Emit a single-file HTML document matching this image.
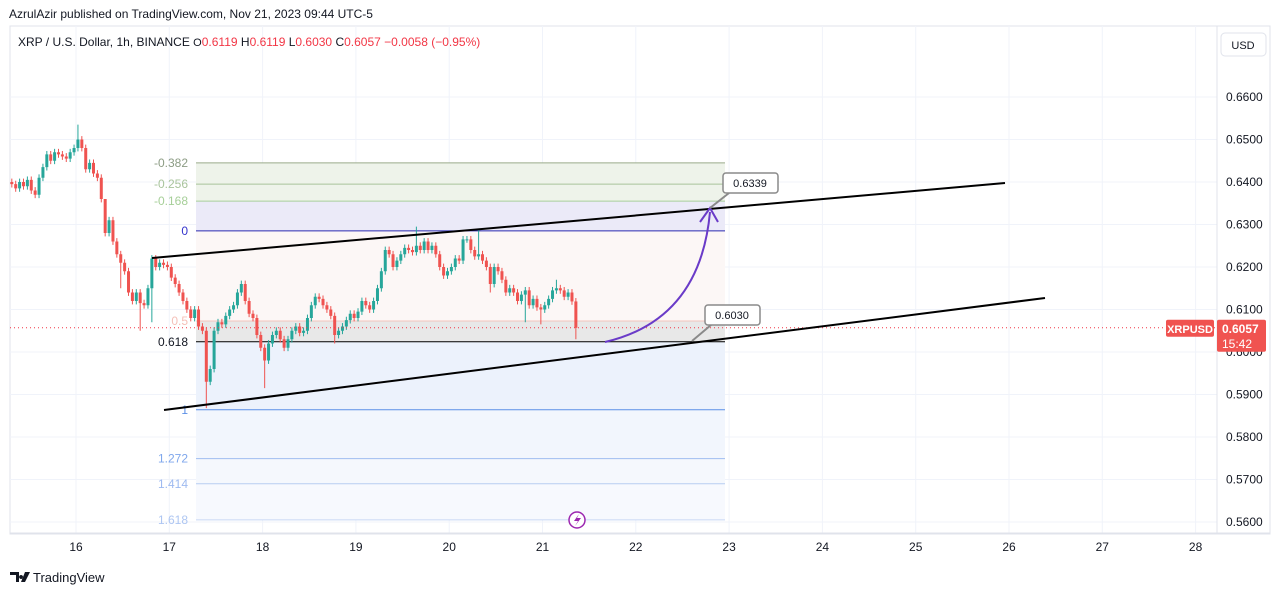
<!DOCTYPE html>
<html><head><meta charset="utf-8"><style>
body{margin:0;width:1281px;height:595px;background:#fff;overflow:hidden;font-family:"Liberation Sans",sans-serif;}
svg{position:absolute;left:0;top:0}
</style></head><body>
<svg id="c" width="1281" height="595">
<text x="9" y="18" font-size="12" fill="#131722">AzrulAzir published on TradingView.com, Nov 21, 2023 09:44 UTC-5</text>
<rect x="10" y="26" width="1260" height="508" fill="none" stroke="#e0e3eb"/>
<g id="grid"></g>
<g id="fib"></g>
<g id="candles"></g>
<g id="draw"></g>
<line x1="1217" y1="26" x2="1217" y2="534" stroke="#e0e3eb"/>
<g id="yaxis"></g>
<g id="xaxis"></g>
<text x="18" y="46" font-size="12" fill="#131722">XRP / U.S. Dollar, 1h, BINANCE <tspan font-size="11">O</tspan><tspan fill="#f23645">0.6119</tspan> <tspan>H</tspan><tspan fill="#f23645">0.6119</tspan> <tspan>L</tspan><tspan fill="#f23645">0.6030</tspan> <tspan>C</tspan><tspan fill="#f23645">0.6057 −0.0058 (−0.95%)</tspan></text>
<rect x="1221" y="33" width="45" height="23" rx="4" fill="#fff" stroke="#e0e3eb"/>
<text x="1243" y="49" font-size="11" text-anchor="middle" fill="#131722">USD</text>
<g><path d="M10 572h9v10h-3v-7h-6zM21 575a2 2 0 1 0 0.1 0zM25 572h5l-5 10h-4z" fill="#131722"/><text x="33" y="582" font-size="13" fill="#131722">TradingView</text></g>
</svg>
<script>
const yTicks=[0.66,0.65,0.64,0.63,0.62,0.61,0.60,0.59,0.58,0.57,0.56];
const dayLabels=["16","17","18","19","20","21","22","23","24","25","26","27","28"];
const closes=[0.6395,0.6385,0.6400,0.6390,0.6405,0.6380,0.6370,0.6410,0.6435,0.6465,0.6450,0.6470,0.6465,0.6460,0.6455,0.6470,0.6480,0.6500,0.6480,0.6430,0.6445,0.6420,0.6410,0.6360,0.6280,0.6310,0.6260,0.6230,0.6210,0.6190,0.6140,0.6120,0.6140,0.6115,0.6110,0.6150,0.6220,0.6200,0.6210,0.6205,0.6200,0.6175,0.6160,0.6140,0.6120,0.6100,0.6080,0.6100,0.6060,0.6050,0.5930,0.5960,0.6050,0.6070,0.6065,0.6085,0.6100,0.6110,0.6140,0.6160,0.6120,0.6090,0.6080,0.6040,0.6010,0.5980,0.6020,0.6040,0.6050,0.6030,0.6010,0.6030,0.6050,0.6060,0.6045,0.6050,0.6080,0.6110,0.6130,0.6125,0.6110,0.6100,0.6085,0.6040,0.6050,0.6060,0.6075,0.6090,0.6080,0.6095,0.6120,0.6110,0.6100,0.6120,0.6150,0.6190,0.6240,0.6230,0.6200,0.6215,0.6230,0.6245,0.6240,0.6235,0.6250,0.6240,0.6260,0.6240,0.6250,0.6230,0.6200,0.6180,0.6190,0.6200,0.6220,0.6215,0.6265,0.6265,0.6240,0.6225,0.6230,0.6215,0.6200,0.6160,0.6200,0.6190,0.6170,0.6140,0.6150,0.6140,0.6120,0.6135,0.6145,0.6110,0.6125,0.6105,0.6100,0.6110,0.6125,0.6145,0.6150,0.6145,0.6130,0.6140,0.6119,0.6057];
const firstOpen=0.6400;
const highOverrides={17:0.6535,24:0.6360,104:0.6295,120:0.6290,140:0.6170};
const lowOverrides={28:0.6150,33:0.6050,36:0.6070,50:0.5868,65:0.5915,83:0.6020,123:0.6140,132:0.6070,136:0.6065,145:0.6030};
const fibLevels=["-0.382","-0.256","-0.168","0","0.5","0.618","1","1.272","1.414","1.618"];
const fibPrices=[0.6445,0.6395,0.6355,0.6285,0.6073,0.6024,0.5864,0.5749,0.5690,0.5605];
const lastPrice=0.6057;
const NS="http://www.w3.org/2000/svg";
function y(p){return 97+(0.66-p)*4250;}
function xh(h){return 76+h*3.89;}   // hours from Nov 16 00:00
function xd(d){return 76+d*93.3;}
function el(t,a,parent){const e=document.createElementNS(NS,t);for(const k in a)e.setAttribute(k,a[k]);parent.appendChild(e);return e;}
const grid=document.getElementById('grid'),ya=document.getElementById('yaxis'),xa=document.getElementById('xaxis');
yTicks.forEach(v=>{const l=el('line',{x1:10,x2:1217,y1:y(v),y2:y(v),stroke:'#f0f3fa'},grid);


const t=el('text',{x:1226,y:y(v)+4,'font-size':12,fill:'#131722'},ya);t.textContent=v.toFixed(4);

});
dayLabels.forEach((d,i)=>{const X=xd(i);const l=el('line',{x1:X,x2:X,y1:26,y2:533,stroke:'#f0f3fa'},grid);


const t=el('text',{x:X,y:551,'font-size':12,fill:'#131722','text-anchor':'middle'},xa);t.textContent=d;

});
el('line',{x1:10,x2:1270,y1:533,y2:533,stroke:'#e0e3eb'},xa);
// fib
const fib=document.getElementById('fib');const fx1=196,fx2=725;
const zoneFills=['#eef3ea','#eef3ea','#ebeaf8','#fcf7f6','#e8e8e8','#ecf2fc','#f2f6fd','#f5f8fd','#f7f9fe'];
const lineCols=['#9aaa8a','#a8c39a','#a8cf9a','#2b2bb0','#f2c4bd','#000','#5b8fe6','#9fbdf0','#b8cdf2','#c9d8f5'];
const labCols=['#8c9c84','#a9c49c','#a6cf98','#3333cc','#f5c0b8','#131722','#5b8fe6','#7fa7ec','#9ebaf0','#aec6f2'];
for(let i=0;i<fibPrices.length-1;i++){const r=el('rect',{x:fx1,y:y(fibPrices[i]),width:fx2-fx1,height:y(fibPrices[i+1])-y(fibPrices[i]),fill:zoneFills[i]},fib);

}
fibPrices.forEach((p,i)=>{const l=el('line',{x1:fx1,x2:fx2,y1:y(p),y2:y(p),stroke:lineCols[i],'stroke-width':1},fib);


const t=el('text',{x:188,y:y(p)+4,'font-size':12,fill:labCols[i],'text-anchor':'end'},fib);t.textContent=fibLevels[i];

});
// candles
const cg=document.getElementById('candles');const startH=-16.5;
closes.forEach((c,i)=>{const o=i===0?firstOpen:closes[i-1];const up=c>=o;const col=up?'#26a69a':'#ef5350';
const hi=highOverrides[i]!==undefined?highOverrides[i]:Math.max(o,c)+0.0008;
const lo=lowOverrides[i]!==undefined?lowOverrides[i]:Math.min(o,c)-0.0008;
const X=xh(startH+i);
const w=el('line',{x1:X,x2:X,y1:y(hi),y2:y(lo),stroke:col,'stroke-width':1},cg);


const b=el('rect',{x:X-1.5,y:y(Math.max(o,c)),width:3,height:Math.max(1,Math.abs(y(o)-y(c))),fill:col},cg);

});
// drawings
const dg=document.getElementById('draw');
const pl=el('line',{x1:10,x2:1217,y1:y(lastPrice),y2:y(lastPrice),stroke:'#f23645','stroke-dasharray':'1 3'},dg);


const up=el('line',{x1:152,y1:258,x2:1005,y2:183,stroke:'#000','stroke-width':2},dg);


const lw=el('line',{x1:164,y1:410,x2:1045,y2:298,stroke:'#000','stroke-width':2},dg);


const ar=el('path',{d:'M605 342 Q700 320 710 212 M700 222 L710 208 L718 222',fill:'none',stroke:'#6a3bc8','stroke-width':2},dg);


[[723,173,'0.6339',710,208],[705,305,'0.6030',692,341]].forEach(a=>{
const g=el('g',{},dg);


el('line',{x1:a[0]+6,y1:a[1]+20,x2:a[3],y2:a[4],stroke:'#8a8a8a','stroke-width':2},g);
el('rect',{x:a[0],y:a[1],width:55,height:20,rx:3,fill:'#fff',stroke:'#8a8a8a','stroke-width':1.5},g);
const t=el('text',{x:a[0]+27,y:a[1]+14,'font-size':11,fill:'#131722','text-anchor':'middle'},g);t.textContent=a[2];});
const ic=el('g',{},dg);


el('circle',{cx:577,cy:520,r:8,fill:'#fff',stroke:'#9c27b0','stroke-width':1.5},ic);
el('path',{d:'M579 514 L574 521 L578 521 L575 526 L581 518 L577 518 Z',fill:'#9c27b0'},ic);
// price labels
const sl=el('g',{},ya);


el('rect',{x:1166,y:y(lastPrice)-8,width:48,height:17,rx:2,fill:'#f05350'},sl);
const st=el('text',{x:1190,y:y(lastPrice)+5,'font-size':11,'font-weight':'bold',fill:'#fff','text-anchor':'middle'},sl);st.textContent='XRPUSD';
el('rect',{x:1217,y:y(lastPrice)-8,width:49,height:32,rx:2,fill:'#f05350'},sl);
const pt=el('text',{x:1222,y:y(lastPrice)+5,'font-size':12,'font-weight':'bold',fill:'#fff'},sl);pt.textContent=lastPrice.toFixed(4);
const tt=el('text',{x:1222,y:y(lastPrice)+20,'font-size':12,fill:'#fff'},sl);tt.textContent='15:42';
</script>
</body></html>
